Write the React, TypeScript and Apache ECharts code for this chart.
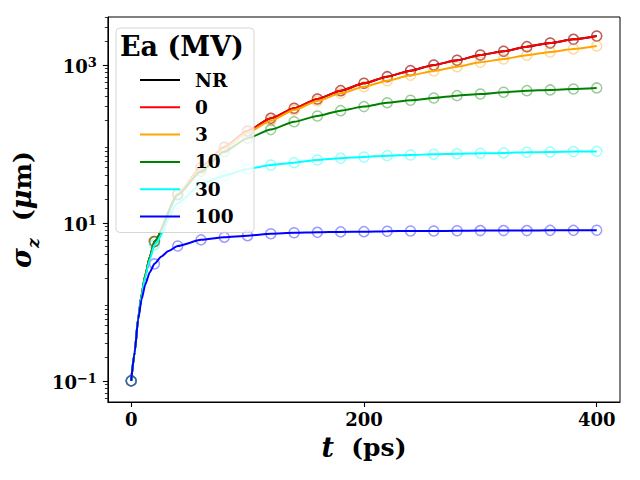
import React, { useEffect, useRef } from "react";
import * as echarts from "echarts";

const FONT = "DejaVu Serif";

const markerTimes = [0, 20, 40, 60, 80, 100, 120, 140, 160, 180, 200, 220, 240, 260, 280, 300, 320, 340, 360, 380, 400];
const earlyTimes = [3, 6, 9, 12, 16];

const seriesNames = ["NR", "0", "3", "10", "30", "100"];
const seriesColors = ["#000000", "#ff0000", "#ffa500", "#008000", "#00ffff", "#0000ff"];
const markerColors = [
  "rgba(0,0,0,0.5)",
  "rgba(255,0,0,0.5)",
  "rgba(255,165,0,0.5)",
  "rgba(0,128,0,0.5)",
  "rgba(0,255,255,0.5)",
  "rgba(0,0,255,0.5)",
];

const nrValues = [0.1, 5.8, 23.1, 50, 90.8, 146, 211, 283, 371, 473, 587, 711, 847, 1000, 1147, 1338, 1490, 1706, 1897, 2113, 2328];
const ea0Values = [0.1, 5.8, 23.1, 50, 90.8, 146, 211, 283, 371, 473, 587, 711, 847, 1000, 1147, 1338, 1490, 1706, 1897, 2113, 2328];
const ea3Values = [0.1, 5.8, 23, 49, 88, 140, 197, 269, 350, 438, 531, 632, 741, 839, 951, 1081, 1191, 1327, 1462, 1596, 1741];
const ea10Values = [0.1, 5.8, 22.5, 45, 80, 118, 152, 191, 226, 264, 297, 333, 357, 382, 409, 429, 451, 473, 483, 497, 512];
const ea30Values = [0.1, 5.3, 17.7, 31.2, 39.7, 48.3, 54.2, 58, 62.7, 65.9, 68.4, 71.1, 72.5, 74, 75, 76, 77, 78.5, 79, 80, 80.5];
const ea100Values = [0.1, 3.03, 5.1, 6.1, 6.6, 6.9, 7.3, 7.5, 7.6, 7.7, 7.75, 7.85, 7.9, 7.9, 7.95, 8.0, 8.0, 8.0, 8.05, 8.05, 8.07];

const nrEarly = [0.23, 0.62, 1.25, 2.15, 3.7];
const ea0Early = [0.23, 0.62, 1.25, 2.15, 3.7];
const ea3Early = [0.23, 0.62, 1.25, 2.15, 3.7];
const ea10Early = [0.23, 0.62, 1.25, 2.15, 3.7];
const ea30Early = [0.23, 0.61, 1.2, 2.05, 3.45];
const ea100Early = [0.23, 0.6, 1.08, 1.64, 2.38];
const ea100ExtraTimes = [26, 32];
const ea100Extra = [3.75, 4.4];

const allValues = [nrValues, ea0Values, ea3Values, ea10Values, ea30Values, ea100Values];
const allEarly = [nrEarly, ea0Early, ea3Early, ea10Early, ea30Early, ea100Early];

const xTicks = [0, 200, 400];
const yMajorTicks = [0.1, 10, 1000];
const yMinorTicks = [
  0.06, 0.07, 0.08, 0.09,
  0.2, 0.3, 0.4, 0.5, 0.6, 0.7, 0.8, 0.9,
  2, 3, 4, 5, 6, 7, 8, 9,
  20, 30, 40, 50, 60, 70, 80, 90,
  200, 300, 400, 500, 600, 700, 800, 900,
  2000, 3000, 4000,
];

const Y_MIN = 0.054;
const Y_MAX = 4050;

function buildLine(i: number): number[][] {
  const pts: number[][] = [];
  markerTimes.forEach((t, k) => pts.push([t, allValues[i][k]]));
  earlyTimes.forEach((t, k) => pts.push([t, allEarly[i][k]]));
  if (i === 5) ea100ExtraTimes.forEach((t, k) => pts.push([t, ea100Extra[k]]));
  pts.sort((a, b) => a[0] - b[0]);
  return pts;
}

export default function App() {
  const ref = useRef<HTMLDivElement>(null);
  useEffect(() => {
    if (!ref.current) return;
    const chart = echarts.init(ref.current, undefined, { renderer: "svg" });
    const series: any[] = [];
    seriesNames.forEach((name, i) => {
      series.push({
        name,
        type: "line",
        yAxisIndex: 0,
        data: buildLine(i),
        symbol: "none",
        smooth: 0.2,
        smoothMonotone: "x",
        lineStyle: { color: seriesColors[i], width: 2 },
        itemStyle: { color: seriesColors[i] },
        silent: true,
      });
      series.push({
        name: name + " markers",
        type: "scatter",
        yAxisIndex: 0,
        data: markerTimes.map((t, k) => [t, allValues[i][k]]),
        symbol: "circle",
        symbolSize: 10,
        itemStyle: { color: "rgba(0,0,0,0)", borderColor: markerColors[i], borderWidth: 1.5 },
        silent: true,
      });
    });

    const supRich = {
      b: { fontFamily: FONT, fontWeight: "bold", fontSize: 18, color: "#000", verticalAlign: "bottom", lineHeight: 22 },
      s: { fontFamily: FONT, fontWeight: "bold", fontSize: 13, color: "#000", verticalAlign: "bottom", padding: [0, 0, 7, 0] },
    };

    chart.setOption({
      animation: false,
      textStyle: { fontFamily: FONT, fontWeight: "bold", color: "#000" },
      grid: { left: 107, right: 20, top: 17, bottom: 78, show: true, borderColor: "#000", borderWidth: 1, backgroundColor: "transparent" },
      title: {
        text: "Ea (MV)",
        left: 120,
        top: 33,
        padding: 0,
        z: 10,
        textStyle: { fontFamily: FONT, fontWeight: "bold", fontSize: 27, color: "#000" },
      },
      legend: {
        data: seriesNames,
        orient: "vertical",
        left: 116,
        top: 28,
        padding: [42, 9, 6, 24],
        itemWidth: 40,
        itemHeight: 2,
        itemGap: 7.3,
        icon: "rect",
        selectedMode: false,
        backgroundColor: "rgba(255,255,255,0.8)",
        borderColor: "rgba(204,204,204,0.8)",
        borderWidth: 1,
        borderRadius: 4,
        textStyle: { fontFamily: FONT, fontWeight: "bold", fontSize: 18.5, color: "#000", lineHeight: 20, width: 50, padding: [0, 0, 0, 10] },
      },
      xAxis: {
        type: "value",
        min: -20,
        max: 420,
        name: "{i|t}{n|  (ps)}",
        nameLocation: "middle",
        nameGap: 32,
        nameTextStyle: {
          rich: {
            i: { fontFamily: FONT, fontWeight: "bold", fontStyle: "italic", fontSize: 27, color: "#000" },
            n: { fontFamily: FONT, fontWeight: "bold", fontSize: 25, color: "#000" },
          },
        },
        axisLine: { show: true, onZero: false, lineStyle: { color: "#000", width: 1 } },
        axisTick: { show: true, customValues: xTicks, length: 5, lineStyle: { color: "#000", width: 1.1 } },
        axisLabel: { customValues: xTicks, margin: 8, fontFamily: FONT, fontWeight: "bold", fontSize: 18, color: "#000" },
        splitLine: { show: false },
      },
      yAxis: [
        {
          type: "log",
          logBase: 10,
          min: Y_MIN,
          max: Y_MAX,
          name: "{g|σ}{sub|z}{n|  (}{g|μ}{n|m)}",
          nameLocation: "middle",
          nameRotate: 90,
          nameGap: 64,
          nameTextStyle: {
            rich: {
              g: { fontFamily: FONT, fontWeight: "bold", fontStyle: "italic", fontSize: 27, color: "#000", verticalAlign: "bottom", padding: [0, 0, 6, 0] },
              n: { fontFamily: FONT, fontWeight: "bold", fontSize: 25, color: "#000", verticalAlign: "bottom", padding: [0, 0, 6, 0] },
              sub: { fontFamily: FONT, fontWeight: "bold", fontStyle: "italic", fontSize: 17, color: "#000", verticalAlign: "bottom" },
            },
          },
          axisLine: { show: true, onZero: false, lineStyle: { color: "#000", width: 1 } },
          axisTick: { show: true, customValues: yMajorTicks, length: 5, lineStyle: { color: "#000", width: 1.1 } },
          axisLabel: {
            customValues: yMajorTicks,
            margin: 11,
            formatter: (v: number) => {
              const e = Math.round(Math.log10(v));
              return "{b|10}{s|" + (e < 0 ? "\u2212" + -e : String(e)) + "}";
            },
            rich: supRich,
          },
          splitLine: { show: false },
          minorTick: { show: false },
        },
        {
          type: "log",
          logBase: 10,
          min: Y_MIN,
          max: Y_MAX,
          position: "left",
          axisLine: { show: false, onZero: false },
          axisTick: { show: true, customValues: yMinorTicks, length: 3, lineStyle: { color: "#000", width: 0.8 } },
          axisLabel: { show: false },
          splitLine: { show: false },
        },
      ],
      series,
    });
    return () => chart.dispose();
  }, []);
  return <div ref={ref} style={{ position: "absolute", left: 0, top: 0, width: 640, height: 480 }} />;
}
